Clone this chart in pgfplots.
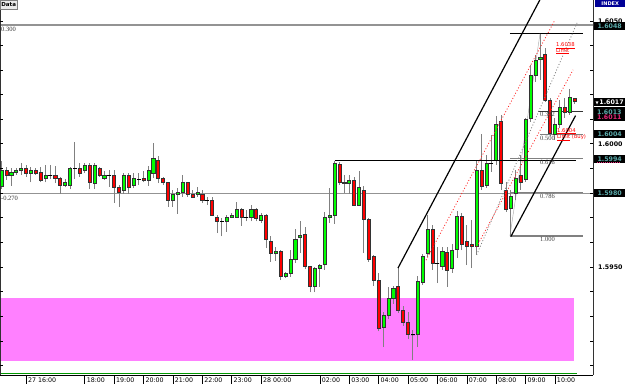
\documentclass[border=0pt]{standalone}
\usepackage{fontspec}
\setmainfont{DejaVu Sans}
\newfontfamily\serifl{Liberation Serif}
\usepackage{pgfplots}
\usepackage{pgfplotstable}
\pgfplotsset{compat=1.18}

\definecolor{wick}{RGB}{128,128,128}
\definecolor{cgreen}{RGB}{0,255,0}
\definecolor{cred}{RGB}{255,0,0}
\definecolor{zone}{RGB}{255,128,255}
\definecolor{teal2}{RGB}{90,170,170}
\definecolor{navy2}{RGB}{0,0,150}
\definecolor{mag2}{RGB}{230,40,120}

\pgfplotstableread{
k O H L C
-5 1.59826 1.59932 1.59816 1.59891
-3 1.59874 1.59901 1.59829 1.59883
-2 1.59883 1.59901 1.59874 1.59891
-1 1.59891 1.59922 1.59874 1.59901
1 1.59881 1.59905 1.59843 1.59891
4 1.59861 1.59915 1.59843 1.59873
8 1.59830 1.59857 1.59824 1.59843
9 1.59829 1.59905 1.59816 1.59901
12 1.59891 1.59922 1.59881 1.59913
14 1.59840 1.59922 1.59817 1.59913
16 1.59861 1.59891 1.59854 1.59873
20 1.59813 1.59881 1.59797 1.59873
22 1.59833 1.59881 1.59820 1.59859
25 1.59852 1.59911 1.59829 1.59892
26 1.59881 1.60003 1.59861 1.59942
30 1.59772 1.59813 1.59745 1.59793
31 1.59793 1.59820 1.59715 1.59804
32 1.59802 1.59874 1.59786 1.59843
35 1.59793 1.59826 1.59786 1.59804
41 1.59684 1.59711 1.59643 1.59702
42 1.59702 1.59718 1.59698 1.59711
43 1.59702 1.59765 1.59698 1.59732
46 1.59702 1.59752 1.59684 1.59732
48 1.59691 1.59718 1.59680 1.59711
51 1.59553 1.59583 1.59526 1.59562
53 1.59461 1.59481 1.59454 1.59474
54 1.59474 1.59569 1.59461 1.59531
55 1.59531 1.59653 1.59515 1.59613
56 1.59621 1.59684 1.59556 1.59630
59 1.59423 1.59501 1.59396 1.59495
60 1.59495 1.59512 1.59420 1.59504
61 1.59512 1.59725 1.59488 1.59702
62 1.59702 1.59820 1.59678 1.59711
63 1.59711 1.59932 1.59675 1.59922
66 1.59840 1.59874 1.59797 1.59851
68 1.59752 1.59891 1.59748 1.59822
73 1.59255 1.59318 1.59174 1.59305
74 1.59305 1.59420 1.59287 1.59373
75 1.59373 1.59423 1.59350 1.59413
80 1.59224 1.59463 1.59174 1.59440
81 1.59436 1.59553 1.59427 1.59542
82 1.59553 1.59711 1.59542 1.59653
85 1.59501 1.59583 1.59488 1.59562
87 1.59496 1.59593 1.59476 1.59569
88 1.59573 1.59728 1.59537 1.59704
92 1.59583 1.59935 1.59549 1.59894
94 1.59833 1.59955 1.59821 1.59922
96 1.59935 1.60114 1.59915 1.60081
99 1.59739 1.59813 1.59626 1.59789
100 1.59800 1.59894 1.59772 1.59861
102 1.59854 1.60106 1.59846 1.60100
103 1.60104 1.60321 1.60089 1.60280
104 1.60280 1.60362 1.60252 1.60341
105 1.60346 1.60447 1.60260 1.60351
108 1.60041 1.60106 1.60016 1.60081
109 1.60081 1.60179 1.60065 1.60149
111 1.60131 1.60224 1.60118 1.60190
}\greentab

\pgfplotstableread{
k O H L C
-4 1.59891 1.59905 1.59854 1.59874
0 1.59901 1.59915 1.59867 1.59881
2 1.59891 1.59901 1.59874 1.59881
3 1.59883 1.59905 1.59843 1.59851
6 1.59873 1.59911 1.59840 1.59859
7 1.59861 1.59865 1.59797 1.59830
11 1.59901 1.59922 1.59867 1.59881
13 1.59913 1.59922 1.59816 1.59843
15 1.59901 1.59905 1.59867 1.59874
18 1.59873 1.59894 1.59761 1.59824
19 1.59822 1.59833 1.59745 1.59802
21 1.59873 1.59881 1.59797 1.59824
24 1.59861 1.59891 1.59843 1.59851
27 1.59932 1.59951 1.59840 1.59861
28 1.59861 1.59867 1.59833 1.59843
29 1.59843 1.59845 1.59745 1.59772
33 1.59843 1.59845 1.59786 1.59793
34 1.59793 1.59813 1.59779 1.59783
36 1.59793 1.59813 1.59759 1.59772
38 1.59772 1.59783 1.59707 1.59711
39 1.59702 1.59711 1.59637 1.59684
44 1.59732 1.59739 1.59667 1.59702
47 1.59732 1.59739 1.59684 1.59698
49 1.59711 1.59715 1.59576 1.59613
50 1.59603 1.59623 1.59522 1.59556
52 1.59562 1.59569 1.59447 1.59463
57 1.59633 1.59661 1.59491 1.59501
58 1.59501 1.59504 1.59396 1.59423
64 1.59915 1.59928 1.59833 1.59843
65 1.59843 1.59874 1.59800 1.59839
67 1.59851 1.59865 1.59748 1.59752
69 1.59813 1.59829 1.59556 1.59694
70 1.59694 1.59698 1.59522 1.59531
71 1.59542 1.59549 1.59423 1.59443
72 1.59443 1.59474 1.59237 1.59251
76 1.59423 1.59495 1.59312 1.59322
77 1.59322 1.59341 1.59260 1.59274
78 1.59274 1.59318 1.59206 1.59224
83 1.59653 1.59671 1.59488 1.59516
86 1.59561 1.59581 1.59419 1.59488
89 1.59704 1.59720 1.59569 1.59593
90 1.59603 1.59671 1.59508 1.59583
91 1.59593 1.59691 1.59496 1.59583
93 1.59891 1.60041 1.59813 1.59826
97 1.60091 1.60118 1.59813 1.59840
98 1.59813 1.59846 1.59724 1.59732
101 1.59874 1.59955 1.59813 1.59843
106 1.60362 1.60390 1.60171 1.60179
107 1.60179 1.60187 1.60033 1.60043
110 1.60149 1.60187 1.60106 1.60131
112 1.60183 1.60187 1.60163 1.60175
}\redtab

\pgfplotstableread{
k O H L C
5 1.59874 1.59915 1.59857 1.59874
10 1.59901 1.60009 1.59857 1.59901
17 1.59874 1.59894 1.59826 1.59874
23 1.59857 1.59881 1.59833 1.59857
37 1.59772 1.59786 1.59752 1.59772
40 1.59684 1.59698 1.59623 1.59684
45 1.59702 1.59732 1.59684 1.59702
79 1.59224 1.59244 1.59122 1.59224
84 1.59516 1.59581 1.59435 1.59516
95 1.59922 1.60037 1.59886 1.59922
}\dojitab

% candles: wick from L to H, body from O to C (values read from the tables)
\newcommand{\drawcandles}[3]{%
  \pgfplotstablegetrowsof{#1}%
  \pgfmathtruncatemacro\nrows{\pgfplotsretval-1}%
  \pgfplotsforeachungrouped \i in {0,...,\nrows}{%
    \pgfplotstablegetelem{\i}{k}\of{#1}\let\ck\pgfplotsretval
    \pgfplotstablegetelem{\i}{O}\of{#1}\let\co\pgfplotsretval
    \pgfplotstablegetelem{\i}{H}\of{#1}\let\ch\pgfplotsretval
    \pgfplotstablegetelem{\i}{L}\of{#1}\let\cl\pgfplotsretval
    \pgfplotstablegetelem{\i}{C}\of{#1}\let\cc\pgfplotsretval
    \edef\tmp{\noexpand\draw[wick, line width=1pt] (axis cs:\ck,\cl) -- (axis cs:\ck,\ch);
      \noexpand\filldraw[fill=#2, draw=black!80, line width=0.7pt] ([xshift=-#3]axis cs:\ck,\co) rectangle ([xshift=#3]axis cs:\ck,\cc);}%
    \tmp
  }%
}

\newcommand{\xt}[2]{%
  \draw[black, line width=0.6pt] (axis cs:#1,1.59061) -- ([yshift=-9pt]axis cs:#1,1.59061);
  \node[anchor=north west, inner sep=0pt, font=\fontsize{6.3}{7}\selectfont] at ([xshift=1.8pt,yshift=-2.2pt]axis cs:#1,1.59061) {#2};}
\newcommand{\yt}[1]{%
  \draw[black, line width=0.6pt] (axis cs:-5.31,#1) -- ([xshift=3pt]axis cs:-5.31,#1);
  \draw[black, line width=0.6pt] (axis cs:115.76,#1) -- ([xshift=-3pt]axis cs:115.76,#1);}
\newcommand{\boxlab}[3]{%
  \node[anchor=west, fill=black, text=#3, minimum width=32pt, minimum height=8pt, inner sep=0pt, font=\bfseries\fontsize{6.3}{7}\selectfont] at ([xshift=0.5pt]axis cs:115.76,#1) {#2};}
\newcommand{\plainlab}[1]{%
  \node[anchor=west, inner sep=0pt, font=\bfseries\fontsize{6.3}{7}\selectfont] at ([xshift=5pt]axis cs:115.76,#1) {#1};}
\newcommand{\fiblab}[2]{%
  \node[anchor=north west, inner sep=0pt, text=black!75, font=\serifl\fontsize{6.5}{7}\selectfont] at ([yshift=-1.2pt]axis cs:104.94,#1) {#2};}

\begin{document}
\begin{tikzpicture}
\useasboundingbox (0pt,0pt) rectangle (625pt,384pt);
\begin{axis}[
  at={(0pt,9pt)}, anchor=south west, scale only axis,
  width=593pt, height=375pt,
  y coord trafo/.code={\pgfmathparse{(#1-1.59)*10000}},
  y coord inv trafo/.code={\pgfmathparse{#1/10000+1.59}},
  xmin=-5.31, xmax=115.76, ymin=1.59061, ymax=1.60585,
  axis line style={draw=none}, clip=false,
  xtick=\empty, ytick=\empty,
]
% zone
\fill[zone] (axis cs:-5.31,1.59115) rectangle (axis cs:111.9,1.59375);
% long horizontal levels
\draw[gray!85, line width=1.6pt] (axis cs:-5.31,1.60484) -- (axis cs:115.76,1.60484);
\draw[gray!85, line width=1.6pt] (axis cs:-5.31,1.59797) -- (axis cs:115.76,1.59797);
% fib retracement
\draw[black, line width=0.8pt] (axis cs:98.8,1.60447) -- (axis cs:113.7,1.60447);
\draw[black!80, line width=0.8pt] (axis cs:104.5,1.60133) -- (axis cs:113.7,1.60133);
\draw[gray, line width=1pt] (axis cs:104.9,1.60037) -- (axis cs:113.7,1.60037);
\draw[gray, line width=1pt] (axis cs:98.8,1.59940) -- (axis cs:113.7,1.59940);
\draw[gray, line width=1pt] (axis cs:98.8,1.59802) -- (axis cs:113.7,1.59802);
\draw[gray, line width=1.4pt] (axis cs:98.8,1.59626) -- (axis cs:113.7,1.59626);
\draw[gray!60, line width=0.5pt] (axis cs:98.8,1.59626) -- (axis cs:104.94,1.60447);
% candles
\drawcandles{\greentab}{cgreen}{1.55pt}
\drawcandles{\redtab}{cred}{1.55pt}
\drawcandles{\dojitab}{black}{1.6pt}
\addplot[forget plot, only marks, mark=-, mark size=2pt, mark options={black, line width=1pt}]
  table[x=k, y=O] {\dojitab};
% horizontal black level
\draw[black, line width=1.5pt] (axis cs:63,1.59932) -- (axis cs:112.3,1.59932);
% channel lines
\draw[black, line width=1.2pt] (axis cs:75.95,1.59495) -- (axis cs:104.9,1.60585);
\draw[black, line width=1.2pt] (axis cs:99.0,1.59623) -- (axis cs:112.2,1.60115);
\draw[red!85, line width=0.8pt, dash pattern=on 1pt off 2pt] (axis cs:81.67,1.59528) -- (axis cs:108.0,1.60504);
\draw[red!85, line width=0.8pt, dash pattern=on 1pt off 2pt] (axis cs:92.0,1.59583) -- (axis cs:111.7,1.60301);
\draw[gray, line width=0.8pt, dash pattern=on 1pt off 2pt] (axis cs:92.0,1.59549) -- (axis cs:112.5,1.60492);
% fib labels
\fiblab{1.60133}{0.382}
\fiblab{1.60037}{0.500}
\fiblab{1.59940}{0.618}
\fiblab{1.59802}{0.786}
\fiblab{1.59626}{1.000}
% level labels left
\node[anchor=north west, inner sep=0pt, text=black!80, font=\serifl\fontsize{6.5}{7}\selectfont] at ([xshift=1pt,yshift=-2.6pt]axis cs:-5.31,1.60484) {0.300};
\node[anchor=north west, inner sep=0pt, text=black!80, font=\serifl\fontsize{6.5}{7}\selectfont] at ([xshift=1pt,yshift=-2.6pt]axis cs:-5.31,1.59797) {-0.270};
% order annotations
\node[anchor=north west, inner sep=0pt, text=red, font=\fontsize{5.3}{6}\selectfont] at (axis cs:108.2,1.60412) {\underline{1.6038}};
\node[anchor=north west, inner sep=0pt, text=red, font=\fontsize{5.3}{6}\selectfont] at (axis cs:108.2,1.60389) {\underline{Limit}};
\node[anchor=north west, inner sep=0pt, text=red, font=\fontsize{5.3}{6}\selectfont] at (axis cs:108.4,1.60064) {\underline{1.6004}};
\node[anchor=north west, inner sep=0pt, text=red, font=\fontsize{5.3}{6}\selectfont] at (axis cs:108.4,1.60039) {\underline{Limit} (buy)};
% frame
\draw[black, line width=0.8pt] (axis cs:-5.31,1.59061) -- (axis cs:115.76,1.59061);
\draw[green!60!black, line width=0.8pt] (axis cs:-5.31,1.59066) -- (axis cs:112.5,1.59066);
\draw[black!80, line width=0.8pt] (axis cs:-5.31,1.59061) -- (axis cs:-5.31,1.60585);
\draw[black!80, line width=0.8pt] (axis cs:115.76,1.59061) -- (axis cs:115.76,1.60585);
% y ticks (every 10 pips, inside, both sides)
\yt{1.591}\yt{1.592}\yt{1.593}\yt{1.594}\yt{1.595}\yt{1.596}\yt{1.597}\yt{1.598}
\yt{1.599}\yt{1.600}\yt{1.601}\yt{1.602}\yt{1.603}\yt{1.604}\yt{1.605}
% x ticks
\xt{0}{27 16:00}
\xt{12}{18:00}
\xt{18}{19:00}
\xt{24}{20:00}
\xt{30}{21:00}
\xt{36}{22:00}
\xt{42}{23:00}
\xt{48}{28 00:00}
\xt{60}{02:00}
\xt{66}{03:00}
\xt{72}{04:00}
\xt{78}{05:00}
\xt{84}{06:00}
\xt{90}{07:00}
\xt{96}{08:00}
\xt{102}{09:00}
\xt{108}{10:00}
% right labels
\node[anchor=north west, fill=navy2, text=white, minimum width=30pt, minimum height=7pt, inner sep=0pt, font=\bfseries\fontsize{5}{6}\selectfont] at ([xshift=2pt]axis cs:115.76,1.60585) {INDEX};
\plainlab{1.6050}
\boxlab{1.6048}{1.6048}{teal2}
\boxlab{1.6017}{\fontsize{4}{5}\selectfont▼\,\fontsize{6.3}{7}\selectfont 1.6017}{white}
\fill[black] ([xshift=0.5pt]axis cs:115.76,1.60150) rectangle ([xshift=32.5pt]axis cs:115.76,1.60093);
\node[anchor=west, inner sep=0pt, text=teal2, font=\bfseries\fontsize{6.3}{7}\selectfont] at ([xshift=4pt]axis cs:115.76,1.60130) {1.6013};
\node[anchor=west, inner sep=0pt, text=mag2, font=\bfseries\fontsize{6.3}{7}\selectfont] at ([xshift=4pt]axis cs:115.76,1.60110) {1.6011};
\boxlab{1.6004}{1.6004}{teal2}
\plainlab{1.6000}
\boxlab{1.5994}{1.5994}{teal2}
\draw[mag2, line width=0.6pt, dash pattern=on 1pt off 1pt] ([xshift=4pt,yshift=-3.6pt]axis cs:115.76,1.5994) -- ([xshift=28pt,yshift=-3.6pt]axis cs:115.76,1.5994);
\boxlab{1.5980}{1.5980}{teal2}
\plainlab{1.5950}
% data box
\node[anchor=north west, draw=gray, fill=gray!15, minimum width=17pt, minimum height=9pt, inner sep=0pt, font=\bfseries\fontsize{5.5}{6}\selectfont] at (axis cs:-5.31,1.60585) {Data};
\end{axis}
\end{tikzpicture}
\end{document}
